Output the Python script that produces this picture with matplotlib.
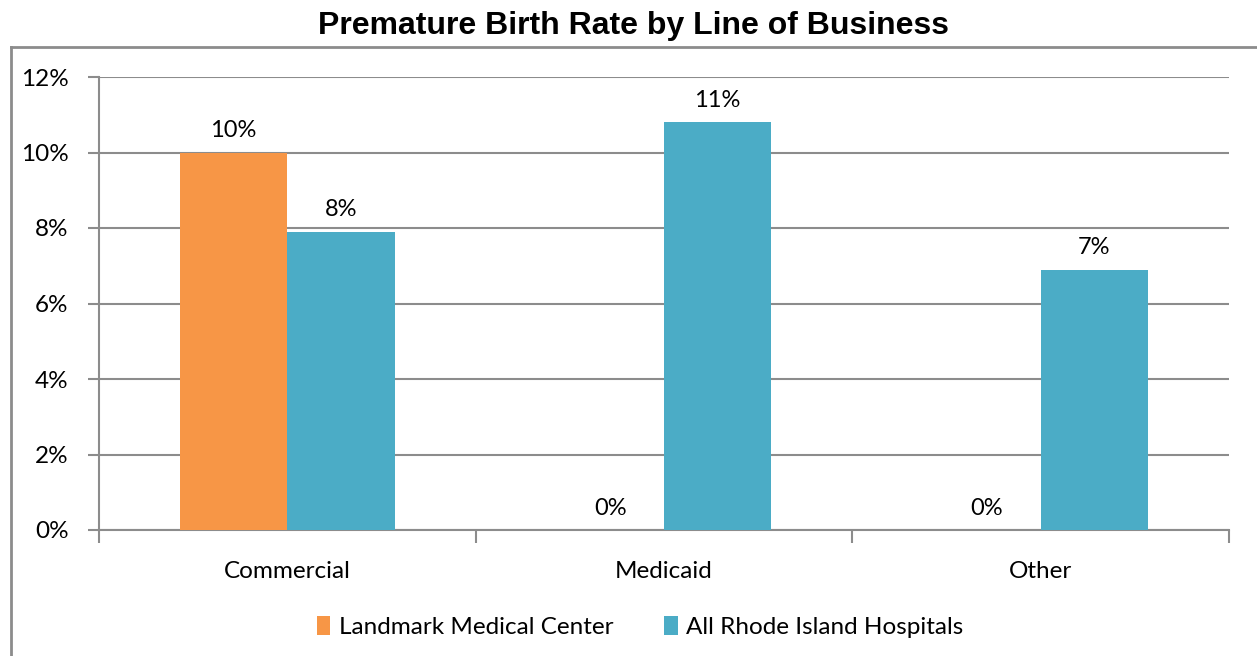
import numpy as np
import matplotlib.pyplot as plt
from matplotlib.lines import Line2D

# dados do gráfico
categorias = ['Commercial', 'Medicaid', 'Other']
landmark = [10.0, 0.0, 0.0]
rhode_island = [7.9, 10.8, 6.9]
rotulos_landmark = ['10%', '0%', '0%']
rotulos_ri = ['8%', '11%', '7%']

cor_laranja = '#F79646'
cor_azul = '#4BACC6'
cinza = '#8C8C8C'

plt.rcParams['font.family'] = ['Lato', 'DejaVu Sans']

fig = plt.figure(figsize=(12.57, 6.56), dpi=100)
ax = fig.add_axes([99/1257, 1-530/656, 1130/1257, 453/656])

x = np.arange(len(categorias))
larg = 0.285
b1 = ax.bar(x - larg/2, landmark, larg, color=cor_laranja, label='Landmark Medical Center', zorder=3)
b2 = ax.bar(x + larg/2, rhode_island, larg, color=cor_azul, label='All Rhode Island Hospitals', zorder=3)

# rótulos dos valores
for i in range(len(categorias)):
    ax.text(x[i] - larg/2, landmark[i] + 0.3, rotulos_landmark[i], ha='center', va='bottom', fontsize=17)
    ax.text(x[i] + larg/2, rhode_island[i] + 0.3, rotulos_ri[i], ha='center', va='bottom', fontsize=17)

ax.set_xlim(-0.5, 2.5)
ax.set_ylim(0, 12)
ax.set_yticks(range(0, 13, 2))
ax.set_yticklabels([f'{v}%' for v in range(0, 13, 2)], fontsize=17.5)
ax.grid(axis='y', color=cinza, linewidth=1.5, zorder=0)

# ticks do eixo x nas divisões das categorias
ax.set_xticks([-0.5, 0.5, 1.5, 2.5])
ax.set_xticklabels([])
ax.set_xticks(x, minor=True)
ax.set_xticklabels(categorias, minor=True, fontsize=17.5)
ax.tick_params(axis='x', which='major', length=9, width=1.5, color=cinza, direction='out')
ax.tick_params(axis='x', which='minor', length=0, pad=22)
ax.tick_params(axis='y', length=8, width=1.5, color=cinza, pad=14)

for lado in ['top', 'right']:
    ax.spines[lado].set_visible(False)
ax.spines['left'].set_color(cinza)
ax.spines['left'].set_linewidth(1.5)
ax.spines['bottom'].set_color(cinza)
ax.spines['bottom'].set_linewidth(1.5)

# título
fig.text(634/1257, 1-26/656, 'Premature Birth Rate by Line of Business', ha='center', va='center',
         fontsize=23, fontweight='bold', family='Liberation Sans')

# legenda
fig.legend(handles=[b1, b2], loc='center', bbox_to_anchor=(640/1257, 1-627/656), ncol=2, frameon=False,
           fontsize=17.5, handlelength=0.55, handleheight=0.8, handletextpad=0.35, columnspacing=2.1)

# borda do gráfico
fig.add_artist(Line2D([11/1257, 11/1257], [0, 1-47/656], color=cinza, linewidth=2))
fig.add_artist(Line2D([11/1257, 1], [1-47/656, 1-47/656], color=cinza, linewidth=2))

plt.savefig('out.png', dpi=100)
